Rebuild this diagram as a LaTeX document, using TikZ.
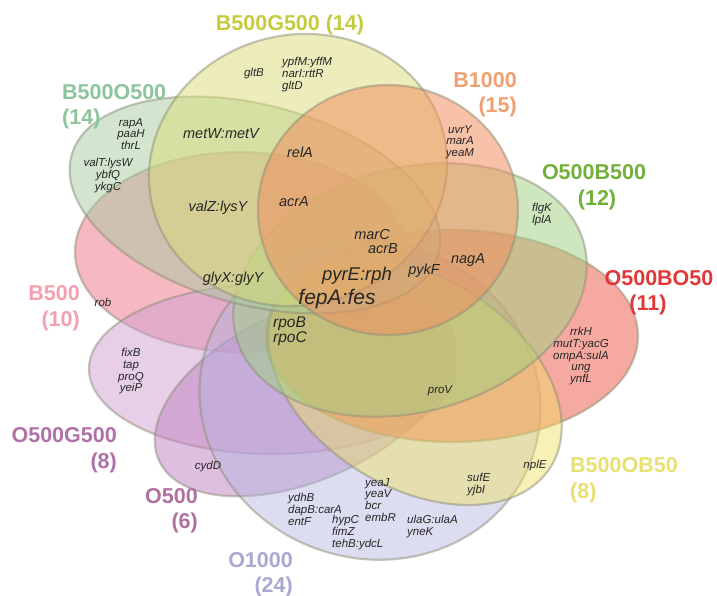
\documentclass[tikz,border=0pt]{standalone}
\usepackage{fontspec}
\setmainfont{Liberation Sans}
\definecolor{cBG}{HTML}{DCDC78}
\definecolor{cBO}{HTML}{A8CCA0}
\definecolor{cBk}{HTML}{F09060}
\definecolor{cOB}{HTML}{A0D080}
\definecolor{cOBO}{HTML}{F07060}
\definecolor{cBOB}{HTML}{F0E060}
\definecolor{cOk}{HTML}{B4B4E0}
\definecolor{cO}{HTML}{C080C0}
\definecolor{cOG}{HTML}{D0A0D0}
\definecolor{cB}{HTML}{F08898}
\definecolor{edge}{HTML}{8E8E78}
\definecolor{tBG}{HTML}{C5CB3F}
\definecolor{tBO}{HTML}{8CC49C}
\definecolor{tBk}{HTML}{F0A070}
\definecolor{tOB}{HTML}{72B03C}
\definecolor{tOBO}{HTML}{E03838}
\definecolor{tBOB}{HTML}{E8E070}
\definecolor{tOk}{HTML}{A8A8D0}
\definecolor{tO}{HTML}{B070A0}
\definecolor{tOG}{HTML}{B070A8}
\definecolor{tB}{HTML}{F4A0B0}
\definecolor{gtxt}{HTML}{262626}
\begin{document}
\begin{tikzpicture}[x=1pt,y=-1pt,
  setlab/.style={font=\bfseries\fontsize{21.5}{24}\selectfont, inner sep=0pt},
  gene/.style={font=\itshape\fontsize{11.5}{11.8}\selectfont, inner sep=0pt, align=center, text=gtxt},
  midgene/.style={font=\itshape\fontsize{14.5}{15}\selectfont, inner sep=0pt, text=gtxt},
  petal/.style={draw=edge, draw opacity=0.5, line width=2.2pt, fill opacity=0.5},
]
\useasboundingbox (0,0) rectangle (717,596);
% ellipses
\path[petal, fill=cB, fill opacity=0.6] (240,252) ellipse [x radius=165, y radius=100];
\path[petal, fill=cOG] (272,369) ellipse [x radius=183, y radius=85];
\path[petal, fill=cO, rotate around={24:(305,395)}] (305,395) ellipse [x radius=160, y radius=85];
\path[petal, fill=cOk, fill opacity=0.45, rotate around={-20:(370,400)}] (370,400) ellipse [x radius=172, y radius=158];
\path[petal, fill=cOBO, fill opacity=0.6] (452,336) ellipse [x radius=186, y radius=106];
\path[petal, fill=cBOB, fill opacity=0.45, rotate around={-32:(415,382)}] (415,382) ellipse [x radius=160, y radius=105];
\path[petal, fill=cOB, rotate around={15:(410,290)}] (410,290) ellipse [x radius=180, y radius=122];
\path[petal, fill=cBO, rotate around={-15:(255,205)}] (255,205) ellipse [x radius=190, y radius=100];
\path[petal, fill=cBG, rotate around={15:(298,170)}] (298,170) ellipse [x radius=150, y radius=135];
\path[petal, fill=cBk, fill opacity=0.55] (388,210) ellipse [x radius=130, y radius=125];
% set labels
\node[setlab, text=tBG, anchor=base] (lBG) at (290,31) {B500G500 (14)};
\node[setlab, text=tBO, anchor=base west] (lBO) at (62,100) {B500O500};
\node[setlab, text=tBO, anchor=base west] (nBO) at (62,125) {(14)};
\node[setlab, text=tBk, anchor=base east] (lBk) at (517,88) {B1000};
\node[setlab, text=tBk, anchor=base east] (nBk) at (517,113) {(15)};
\node[setlab, text=tOB, anchor=base] (lOB) at (594,180) {O500B500};
\node[setlab, text=tOB, anchor=base] (nOB) at (597,205) {(12)};
\node[setlab, text=tOBO, anchor=base] (lOBO) at (659,285) {O500BO50};
\node[setlab, text=tOBO, anchor=base] (nOBO) at (648,310) {(11)};
\node[setlab, text=tB, anchor=base east] (lB) at (80,300) {B500};
\node[setlab, text=tB, anchor=base east] (nB) at (80,326) {(10)};
\node[setlab, text=tOG, anchor=base east] (lOG) at (117,442) {O500G500};
\node[setlab, text=tOG, anchor=base east] (nOG) at (117,468) {(8)};
\node[setlab, text=tO, anchor=base east] (lO) at (198,503) {O500};
\node[setlab, text=tO, anchor=base east] (nO) at (198,528) {(6)};
\node[setlab, text=tOk, anchor=base east] (lOk) at (293,567) {O1000};
\node[setlab, text=tOk, anchor=base east] (nOk) at (293,592) {(24)};
\node[setlab, text=tBOB, anchor=base west] (lBOB) at (570,472) {B500OB50};
\node[setlab, text=tBOB, anchor=base west] (nBOB) at (570,498) {(8)};
% small gene lists
\node[gene] (g1) at (254,74) {gltB};
\node[gene, anchor=north west, align=left] (g2) at (282,57) {ypfM:yffM\\narI:rttR\\gltD};
\node[gene, anchor=north] (g3) at (131,118) {rapA\\paaH\\thrL};
\node[gene, anchor=north] (g4) at (108,158) {valT:lysW\\ybfQ\\ykgC};
\node[gene, anchor=north] (g5) at (460,125) {uvrY\\marA\\yeaM};
\node[gene, anchor=north] (g6) at (542,203) {flgK\\lplA};
\node[gene, anchor=north] (g7) at (581,327) {rrkH\\mutT:yacG\\ompA:sulA\\ung\\ynfL};
\node[gene] (g8) at (103,302) {rob};
\node[gene, anchor=north] (g9) at (131,348) {fixB\\tap\\proQ\\yeiP};
\node[gene] (g10) at (208,467) {cydD};
\node[gene, anchor=north west, align=left] (g11) at (288,493) {ydhB\\dapB:carA\\entF};
\node[gene, anchor=north west, align=left] (g12) at (332,515) {hypC\\fimZ\\tehB:ydcL};
\node[gene, anchor=north west, align=left] (g13) at (365,478) {yeaJ\\yeaV\\bcr\\embR};
\node[gene, anchor=north west, align=left] (g14) at (407,515) {ulaG:ulaA\\yneK};
\node[gene, anchor=north west, align=left] (g15) at (467,473) {sufE\\yjbI};
\node[gene] (g16) at (535,466) {nplE};
\node[gene] (g17) at (440,391) {proV};
% central genes
\node[midgene] (m1) at (221,134) {metW:metV};
\node[midgene] (m2) at (300,152) {relA};
\node[midgene] (m3) at (218,208) {valZ:lysY};
\node[midgene] (m4) at (294,202) {acrA};
\node[midgene] (m5) at (233,279) {glyX:glyY};
\node[midgene] (m6) at (372,235) {marC};
\node[midgene] (m7) at (383,249) {acrB};
\node[midgene] (m8) at (424,271) {pykF};
\node[midgene] (m9) at (468,260) {nagA};
\node[midgene, anchor=north west, align=left, font=\itshape\fontsize{15.5}{15}\selectfont] (m10) at (273,317) {rpoB\\rpoC};
\node[midgene, font=\itshape\fontsize{18.5}{19}\selectfont] (m11) at (357,276) {pyrE:rph};
\node[midgene, font=\itshape\fontsize{21}{22}\selectfont] (m12) at (337,299) {fepA:fes};
\end{tikzpicture}
\end{document}
